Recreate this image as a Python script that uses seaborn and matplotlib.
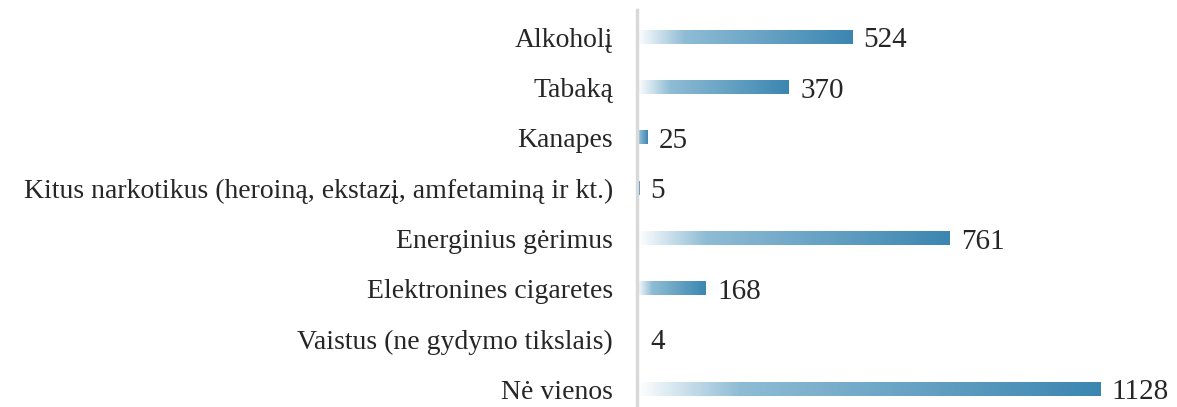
import numpy as np
import pandas as pd
import seaborn as sns
import matplotlib.pyplot as plt
from matplotlib.colors import LinearSegmentedColormap

categories = ['Alkoholį', 'Tabaką', 'Kanapes',
              'Kitus narkotikus (heroiną, ekstazį, amfetaminą ir kt.)',
              'Energinius gėrimus', 'Elektronines cigaretes',
              'Vaistus (ne gydymo tikslais)', 'Nė vienos']
values = [524, 370, 25, 5, 761, 168, 4, 1128]

df = pd.DataFrame({'cat': categories, 'val': values})

sns.set_style('white')
plt.rcParams['font.family'] = ['Liberation Serif', 'DejaVu Serif']

fig = plt.figure(figsize=(11.77, 4.07), dpi=100)
ax = fig.add_axes([0.541, 0.0, 0.45, 0.975])

sns.barplot(data=df, y='cat', x='val', ax=ax, width=0.26, color='#3d87b2')

# gradient fill: white -> light blue -> steel blue, relative to each bar
cmap = LinearSegmentedColormap.from_list(
    'grad', [(0, '#ffffff'), (0.22, '#8fbcd5'), (1, '#3b86b1')])
grad = np.linspace(0, 1, 256).reshape(1, -1)
for p in ax.patches:
    x0, y0 = p.get_x(), p.get_y()
    w, h = p.get_width(), p.get_height()
    if w <= 0:
        continue
    ax.imshow(grad, cmap=cmap, aspect='auto', extent=(x0, x0 + w, y0 + h, y0),
              zorder=2)
    p.set_visible(False)

for i, v in enumerate(values):
    ax.text(v + 28, i, str(v), va='center_baseline', ha='left', fontsize=21,
            color='#262626')

ax.set_xlim(0, 1290)
ax.set_ylim(7.35, -0.54)
ax.set_xlabel('')
ax.set_ylabel('')
ax.set_xticks([])
ax.tick_params(axis='y', length=0, pad=17, labelsize=20, labelcolor='#262626')
for s in ['top', 'right', 'bottom']:
    ax.spines[s].set_visible(False)
ax.spines['left'].set_color('#d9d9d9')
ax.spines['left'].set_linewidth(2.5)

plt.savefig('out.png', dpi=100)
